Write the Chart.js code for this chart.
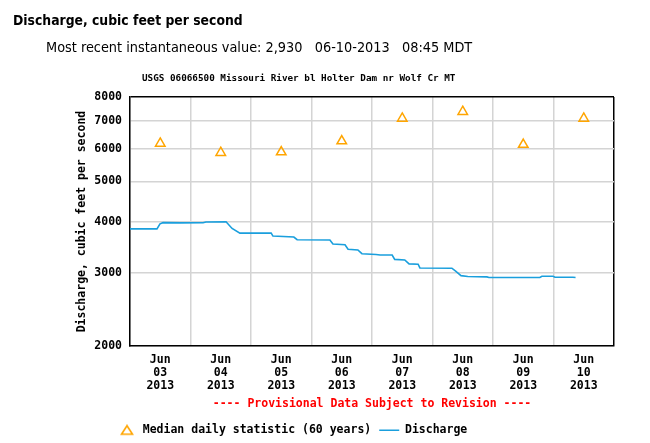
<!DOCTYPE html>
<html>
<head>
<meta charset="utf-8">
<script src="https://cdn.jsdelivr.net/npm/chart.js@4/dist/chart.umd.min.js"></script>
<style>
  body { margin: 0; background: #fff; width: 650px; height: 443px; position: relative; overflow: hidden; }
  #wrap { position: absolute; left: 0; top: 0; width: 650px; height: 443px; }
  .hdr { position: absolute; white-space: pre; color: #000; }
  #h1 { left: 13px; top: 12px; line-height: 16px; font-family: "DejaVu Sans Condensed", "DejaVu Sans"; font-stretch: condensed; font-weight: bold; font-size: 13.8px; }
  #h2 { left: 46px; top: 39px; line-height: 16px; font-family: "DejaVu Sans Condensed", "DejaVu Sans"; font-stretch: condensed; font-size: 14.35px; }
  #h3 { left: 142px; top: 72px; line-height: 12px; font-family: "DejaVu Sans Mono"; font-weight: bold; font-size: 9.3px; }
</style>
</head>
<body>
<div id="wrap"><canvas id="chart" width="650" height="443"></canvas></div>
<div class="hdr" id="h1">Discharge, cubic feet per second</div>
<div class="hdr" id="h2">Most recent instantaneous value: 2,930   06-10-2013   08:45 MDT</div>
<div class="hdr" id="h3">USGS 06066500 Missouri River bl Holter Dam nr Wolf Cr MT</div>
<script>
'use strict';

// hours counted from Jun 03 2013 00:00
const dayLabels = ['03', '04', '05', '06', '07', '08', '09', '10'];
const medianHours = [12, 36, 60, 84, 108, 132, 156, 180];
const medianCfs = [6180, 5870, 5890, 6260, 7100, 7370, 6140, 7100];

const dischargeHours = [0, 10.7, 11.9, 13.1, 20, 29, 30.1, 38.1, 40.5, 43.6, 56, 56.7, 65, 66.3, 79.3, 80.5,
    85.3, 86.5, 90.4, 92, 97.6, 99.2, 104, 105, 109, 110.7, 114.3, 115, 127.7, 129.3, 131.3, 134,
    141.6, 142.4, 162.6, 163.4, 167.8, 168.6, 175.7, 176.75];
const dischargeCfs = [3840, 3840, 3950, 3975, 3970, 3975, 3990, 3995, 3850, 3750, 3750, 3690, 3670, 3615, 3610, 3530,
    3515, 3430, 3415, 3345, 3330, 3320, 3320, 3240, 3230, 3160, 3155, 3090, 3085, 3030, 2960, 2945,
    2940, 2930, 2930, 2950, 2950, 2935, 2935, 2930];

const yTicks = [2000, 3000, 4000, 5000, 6000, 7000, 8000];

const GRID = '#d4d4d4';
const ORANGE = '#ffa500';
const BLUE = '#1a9fdd';
const tickFont = { family: 'DejaVu Sans Mono', size: 11.5, weight: 'bold', lineHeight: '13px' };

Chart.defaults.color = '#000';
Chart.defaults.font.family = 'DejaVu Sans Mono';

// small hollow triangle for the legend entry
const legendTriangle = document.createElement('canvas');
legendTriangle.width = 14;
legendTriangle.height = 12;
(function () {
    const c = legendTriangle.getContext('2d');
    c.strokeStyle = ORANGE;
    c.lineWidth = 1.6;
    c.beginPath();
    c.moveTo(7, 1.5);
    c.lineTo(12.5, 10);
    c.lineTo(1.5, 10);
    c.closePath();
    c.stroke();
})();

// legend sits further right than the y axis box
const legendShift = {
    id: 'legendShift',
    afterLayout(chart) {
        chart.legend.left += 34;
        chart.legend.right += 34;
    }
};

new Chart(document.getElementById('chart'), {
    type: 'line',
    data: {
        datasets: [
            {
                label: 'Median daily statistic (60 years)',
                data: medianHours.map((h, i) => ({ x: h, y: medianCfs[i] })),
                showLine: false,
                pointStyle: 'triangle',
                pointRadius: 5.5,
                pointBorderWidth: 1.5,
                pointBorderColor: ORANGE,
                pointBackgroundColor: 'rgba(255,255,255,0)',
                borderColor: ORANGE,
                backgroundColor: 'rgba(255,255,255,0)'
            },
            {
                label: 'Discharge',
                data: dischargeHours.map((h, i) => ({ x: h, y: dischargeCfs[i] })),
                borderColor: BLUE,
                borderWidth: 1.6,
                pointRadius: 0,
                pointStyle: 'line',
                pointBorderColor: BLUE,
                pointBorderWidth: 1.5,
                tension: 0,
                fill: false
            }
        ]
    },
    options: {
        responsive: false,
        animation: false,
        events: [],
        layout: { padding: { left: 75, right: 36, top: 97, bottom: -3 } },
        plugins: {
            legend: {
                position: 'bottom',
                align: 'start',
                labels: {
                    usePointStyle: true,
                    pointStyleWidth: 20,
                    boxHeight: 9,
                    padding: 8,
                    color: '#000',
                    font: { size: 11.5, weight: 'bold' },
                    generateLabels: (chart) => {
                        const items = Chart.defaults.plugins.legend.labels.generateLabels(chart);
                        items[0].pointStyle = legendTriangle;
                        return items;
                    }
                }
            },
            tooltip: { enabled: false }
        },
        scales: {
            x: {
                type: 'linear',
                min: 0,
                max: 192,
                afterBuildTicks: (s) => {
                    s.ticks = [];
                    for (let v = 0; v <= 192; v += 12) s.ticks.push({ value: v });
                },
                grid: {
                    drawTicks: false,
                    lineWidth: 1.5,
                    color: (c) => {
                        const v = c.tick ? c.tick.value : 0;
                        if (v === 192) return '#000';
                        return v % 24 === 0 ? GRID : 'rgba(0,0,0,0)';
                    }
                },
                border: { color: '#000', width: 1.5 },
                ticks: {
                    autoSkip: false,
                    maxRotation: 0,
                    padding: 7,
                    font: tickFont,
                    callback: (v) => (v % 24 === 12 ? ['Jun', dayLabels[(v - 12) / 24], '2013'] : '')
                },
                title: {
                    display: true,
                    text: '---- Provisional Data Subject to Revision ----',
                    color: '#ff0000',
                    font: { size: 11.5, weight: 'bold' },
                    padding: { top: -2, bottom: 5.6 }
                }
            },
            y: {
                type: 'logarithmic',
                min: 2000,
                max: 8000,
                afterBuildTicks: (s) => { s.ticks = yTicks.map((v) => ({ value: v })); },
                afterFit: (s) => { s.width = 55; },
                grid: {
                    drawTicks: false,
                    lineWidth: 1.5,
                    color: (c) => (c.tick && c.tick.value === 8000 ? '#000' : GRID)
                },
                border: { color: '#000', width: 1.5 },
                ticks: {
                    autoSkip: false,
                    padding: 8,
                    font: tickFont,
                    callback: (v) => String(v)
                },
                title: {
                    display: true,
                    text: 'Discharge, cubic feet per second',
                    font: { size: 11.5, weight: 'bold' },
                    padding: 0
                }
            }
        }
    },
    plugins: [legendShift]
});
</script>
</body>
</html>
